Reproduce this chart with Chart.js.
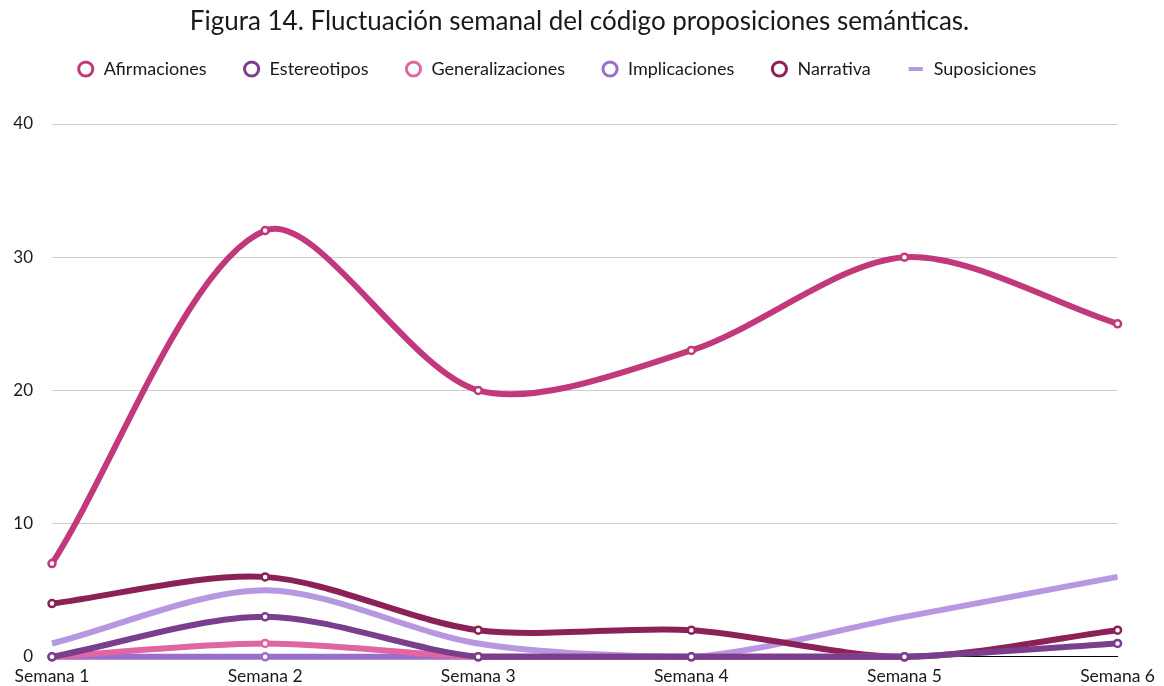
<!DOCTYPE html>
<html>
<head>
<meta charset="utf-8">
<script src="https://cdn.jsdelivr.net/npm/chart.js@4/dist/chart.umd.min.js"></script>
<style>
html,body{margin:0;padding:0;background:#fff;}
#wrap{width:1164px;height:686px;position:relative;}
</style>
</head>
<body>
<div id="wrap"><canvas id="c" width="1164" height="686"></canvas></div>
<script>
const categories = ["Semana 1","Semana 2","Semana 3","Semana 4","Semana 5","Semana 6"];
const afirmaciones = [7, 32, 20, 23, 30, 25];
const estereotipos = [0, 3, 0, 0, 0, 1];
const generalizaciones = [0, 1, 0, 0, 0, null];
const implicaciones = [0, 0, 0, 0, 0, null];
const narrativa = [4, 6, 2, 2, 0, 2];
const suposiciones = [1, 5, 1, 0, 3, 6];
const yTicks = [0, 10, 20, 30, 40];

function ds(label, data, color, pts) {
  return {
    label, data,
    borderColor: color,
    backgroundColor: '#ffffff',
    borderWidth: 6,
    tension: 0.3,
    clip: false,
    pointRadius: pts ? 3.5 : 0,
    pointHoverRadius: pts ? 3.5 : 0,
    pointBorderWidth: 2.5,
    pointBackgroundColor: '#ffffff',
    pointBorderColor: color,
    pointStyle: pts ? 'circle' : 'line',
    spanGaps: false
  };
}

new Chart(document.getElementById('c'), {
  type: 'line',
  data: {
    labels: categories,
    datasets: [
      ds('Afirmaciones', afirmaciones, '#c1397b', true),
      ds('Estereotipos', estereotipos, '#7a3f8c', true),
      ds('Generalizaciones', generalizaciones, '#e065a2', true),
      ds('Implicaciones', implicaciones, '#9a6fc9', true),
      ds('Narrativa', narrativa, '#8c2157', true),
      ds('Suposiciones', suposiciones, '#b897e1', false)
    ]
  },
  options: {
    responsive: false,
    animation: false,
    layout: { padding: { left: 0, right: 5, top: 6, bottom: 0 } },
    plugins: {
      title: {
        display: true,
        text: 'Figura 14. Fluctuación semanal del código proposiciones semánticas.',
        color: '#1a1a1a',
        font: { family: 'Lato', size: 26, weight: 'normal' },
        padding: { top: 0, bottom: 0 }
      },
      legend: {
        display: true,
        labels: {
          usePointStyle: true,
          boxWidth: 18,
          boxHeight: 10,
          padding: 36,
          color: '#1a1a1a',
          font: { family: 'Lato', size: 18 },
          generateLabels(chart) {
            return chart.data.datasets.map((d, i) => ({
              text: d.label,
              fillStyle: '#ffffff',
              strokeStyle: d.borderColor,
              lineWidth: d.pointStyle === 'line' ? 4 : 3,
              pointStyle: d.pointStyle,
              hidden: false,
              datasetIndex: i,
              fontColor: '#1a1a1a'
            }));
          }
        }
      },
      tooltip: { enabled: false }
    },
    scales: {
      x: {
        grid: { display: false, drawTicks: false },
        border: { display: true, color: '#000000', width: 1 },
        afterFit(scale) { scale.height = scale.height - 12; },
        ticks: { color: '#1a1a1a', font: { family: 'Lato', size: 17.5 }, padding: 9, maxRotation: 0, autoSkip: false }
      },
      y: {
        min: 0, max: 40,
        afterBuildTicks(scale) { scale.ticks = yTicks.map(v => ({ value: v })); },
        afterFit(scale) { scale.width = 52; },
        grid: { color: '#cccccc', drawTicks: false, lineWidth: 1 },
        border: { display: false },
        ticks: { color: '#1a1a1a', font: { family: 'Lato', size: 17 }, padding: 19 }
      }
    }
  },
  plugins: [{
    id: 'blockTweaks',
    afterInit(chart) {
      const lg = chart.legend;
      const lgFit = lg.fit;
      lg.fit = function() { lgFit.call(this); this.height += 36; };
      const tb = chart.titleBlock;
      if (tb) {
        const tbUpd = tb.update;
        tb.update = function(w, h) { tbUpd.call(this, w, h); if (this.options.display) { this.height = 18; this.bottom = this.top + 18; } };
      }
    },
    afterLayout(chart) {
      const lg = chart.legend;
      lg.left -= 23;
      lg.right -= 23;
    }
  }]
});
</script>
</body>
</html>
